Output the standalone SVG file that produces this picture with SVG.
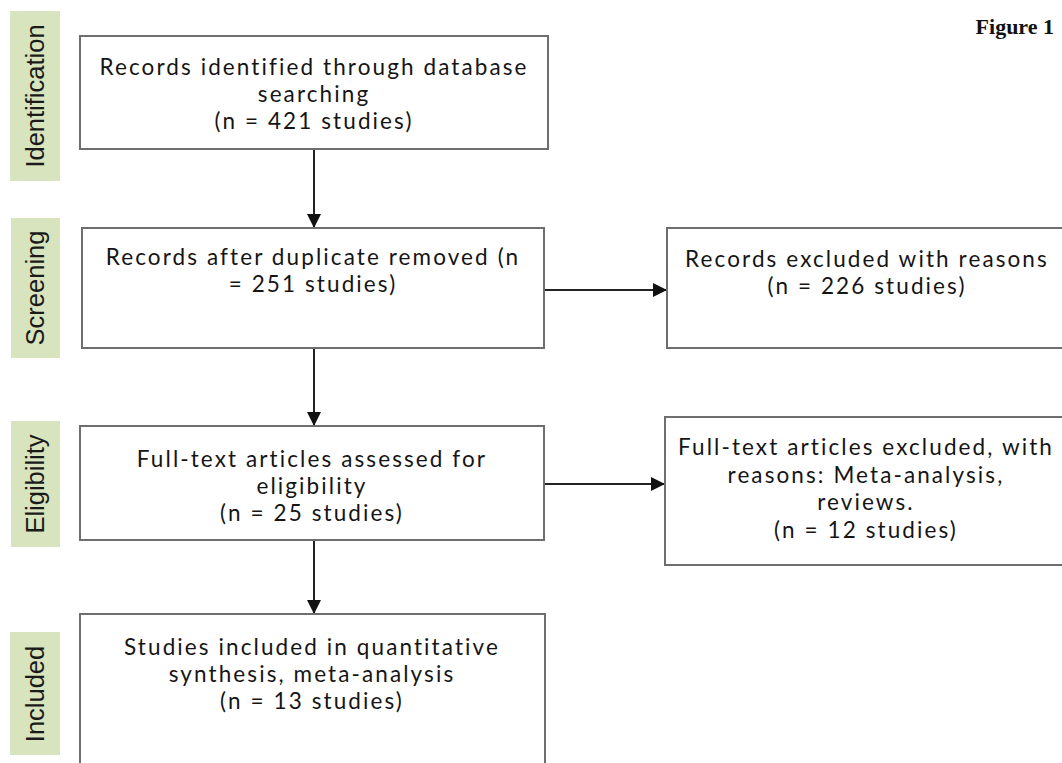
<svg xmlns="http://www.w3.org/2000/svg" width="1062" height="763" viewBox="0 0 1062 763">
<style>
.lab{fill:#d7e4bd}
.labt{font-family:"Liberation Sans",Arial,sans-serif;font-size:25.5px;fill:#1a1a1a;text-anchor:middle}
.box{fill:#fff;stroke:#6e6e6e;stroke-width:2}
.t{font-family:Lato,"Open Sans",sans-serif;font-size:22.5px;fill:#151515;text-anchor:middle;letter-spacing:2.1px}
.c{stroke:#222;stroke-width:2;fill:none}
.fig{font-family:"Liberation Serif","Times New Roman",serif;font-weight:bold;font-size:22px;fill:#111;text-anchor:end}
</style>
<defs>
<marker id="ah" markerUnits="userSpaceOnUse" markerWidth="14" markerHeight="14" viewBox="0 0 14 14" refX="14" refY="7" orient="auto">
<path d="M0,0 L14,7 L0,14 Z" fill="#111"/>
</marker>
</defs>
<rect width="1062" height="763" fill="#fff"/>
<text class="fig" x="1054" y="34">Figure 1</text>

<g id="stage-identification">
<rect class="lab" x="10" y="11" width="50" height="170"/>
<text class="labt" transform="translate(44,96) rotate(-90)">Identification</text>
</g>
<g id="stage-screening">
<rect class="lab" x="11" y="218" width="49" height="140"/>
<text class="labt" transform="translate(44,288) rotate(-90)">Screening</text>
</g>
<g id="stage-eligibility">
<rect class="lab" x="11" y="421" width="49" height="126"/>
<text class="labt" transform="translate(44,484) rotate(-90)">Eligibility</text>
</g>
<g id="stage-included">
<rect class="lab" x="10" y="632" width="50" height="123"/>
<text class="labt" transform="translate(44,694) rotate(-90)">Included</text>
</g>

<g id="connectors">
<line class="c" x1="314" y1="149" x2="314" y2="228" marker-end="url(#ah)"/>
<line class="c" x1="314" y1="348" x2="314" y2="426" marker-end="url(#ah)"/>
<line class="c" x1="314" y1="540" x2="314" y2="614" marker-end="url(#ah)"/>
<line class="c" x1="544" y1="290" x2="667" y2="290" marker-end="url(#ah)"/>
<line class="c" x1="544" y1="484" x2="665" y2="484" marker-end="url(#ah)"/>
</g>

<g id="node-identified">
<rect class="box" x="80" y="36" width="468" height="113"/>
<text class="t" x="314" y="75">Records identified through database</text>
<text class="t" x="314" y="102">searching</text>
<text class="t" x="314" y="129">(n = 421 studies)</text>
</g>
<g id="node-screened">
<rect class="box" x="82" y="228" width="462" height="120"/>
<text class="t" x="313" y="265">Records after duplicate removed (n</text>
<text class="t" x="313" y="292">= 251 studies)</text>
</g>
<g id="node-excluded">
<rect class="box" x="667" y="228" width="400" height="120"/>
<text class="t" x="867" y="267">Records excluded with reasons</text>
<text class="t" x="867" y="294">(n = 226 studies)</text>
</g>
<g id="node-eligibility">
<rect class="box" x="80" y="426" width="464" height="114"/>
<text class="t" x="312" y="467">Full-text articles assessed for</text>
<text class="t" x="312" y="494">eligibility</text>
<text class="t" x="312" y="521">(n = 25 studies)</text>
</g>
<g id="node-fulltext-excluded">
<rect class="box" x="665" y="417" width="402" height="148"/>
<text class="t" x="866" y="455">Full-text articles excluded, with</text>
<text class="t" x="866" y="483">reasons: Meta-analysis,</text>
<text class="t" x="866" y="510">reviews.</text>
<text class="t" x="866" y="538">(n = 12 studies)</text>
</g>
<g id="node-included">
<rect class="box" x="80" y="614" width="465" height="170"/>
<text class="t" x="312" y="655">Studies included in quantitative</text>
<text class="t" x="312" y="682">synthesis, meta-analysis</text>
<text class="t" x="312" y="709">(n = 13 studies)</text>
</g>
</svg>
